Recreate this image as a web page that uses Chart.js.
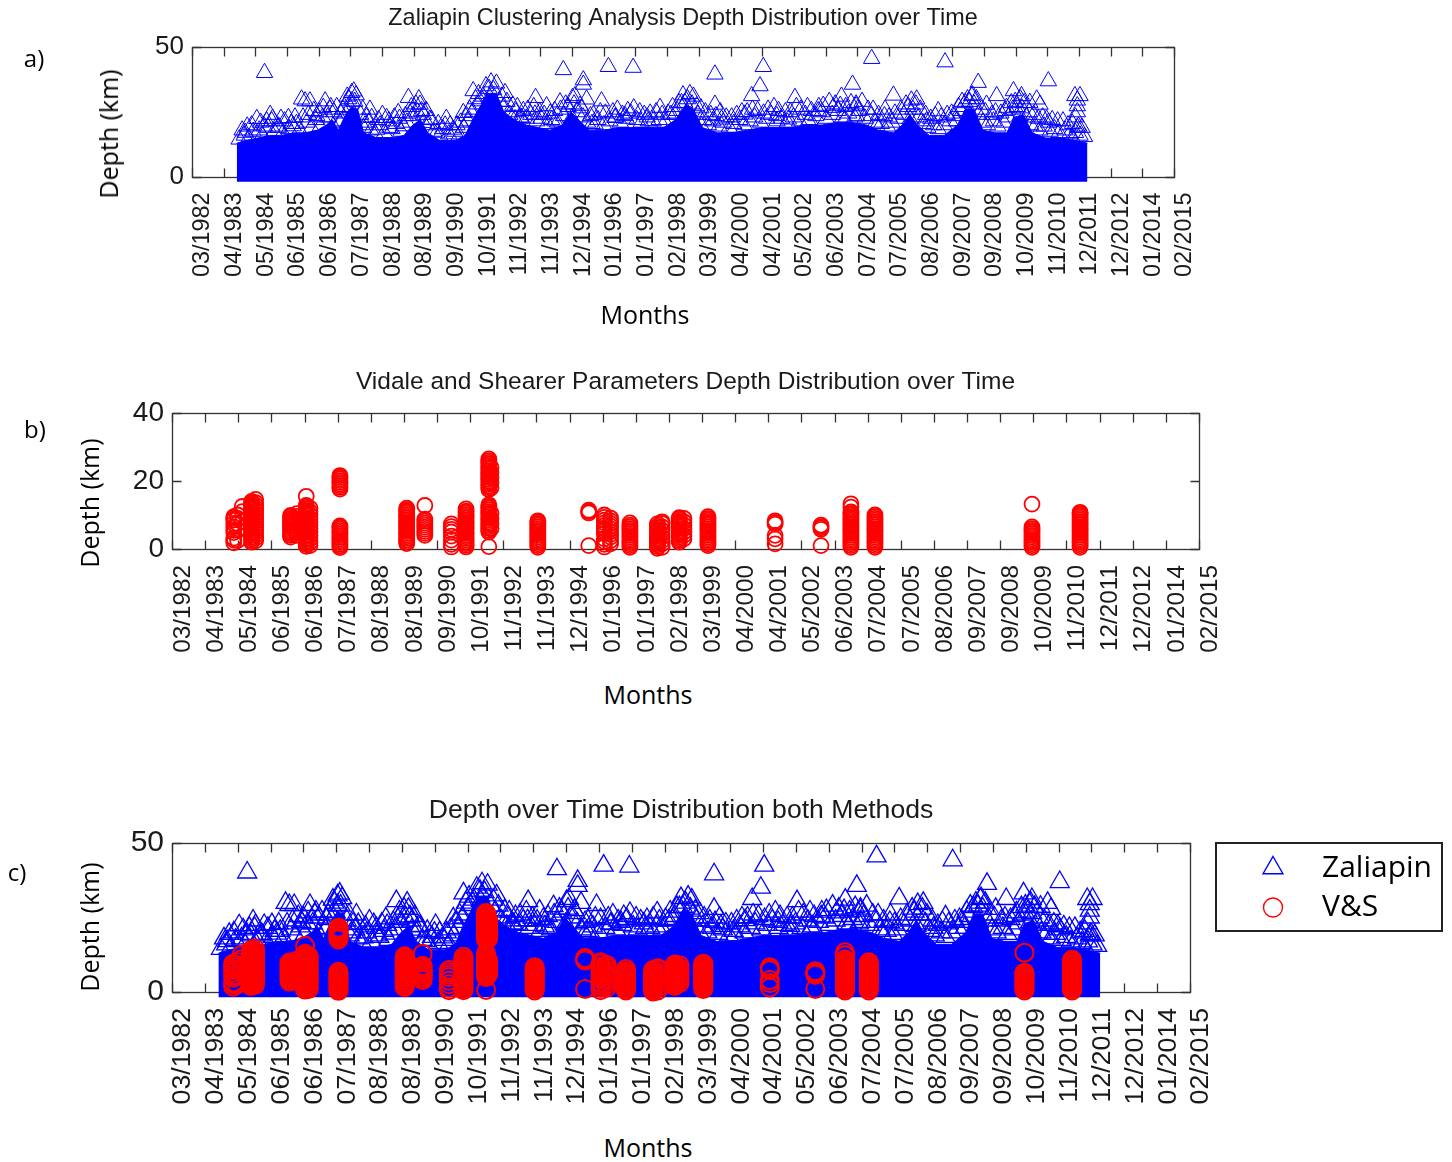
<!DOCTYPE html>
<html>
<head>
<meta charset="utf-8">
<title>Depth distribution over time</title>
<script src="https://cdn.jsdelivr.net/npm/chart.js@4.4.1/dist/chart.umd.min.js"></script>
<style>
  body { margin: 0; background: #fff; }
  #page { position: relative; width: 1452px; height: 1162px; overflow: hidden; }
  canvas { position: absolute; left: 0; }
  .lbl { position: absolute; font-family: "Open Sans", sans-serif; color: #000; white-space: nowrap;
         transform: translate(-50%, -50%); line-height: normal; }
  .rot { transform: translate(-50%, -50%) rotate(-90deg); }
</style>
</head>
<body>
<div id="page">
  <canvas id="panelA" width="1452" height="300" style="top:0px"></canvas>
  <canvas id="panelB" width="1452" height="310" style="top:360px"></canvas>
  <canvas id="panelC" width="1452" height="340" style="top:780px"></canvas>

  <div class="lbl" style="left:34px;top:57px;font-size:24px">a)</div>
  <div class="lbl" style="left:35px;top:428px;font-size:24px">b)</div>
  <div class="lbl" style="left:17px;top:871px;font-size:24px">c)</div>

  <div class="lbl rot" style="left:108px;top:134px;font-size:25px">Depth (km)</div>
  <div class="lbl rot" style="left:89px;top:503px;font-size:25px">Depth (km)</div>
  <div class="lbl rot" style="left:89px;top:927px;font-size:25px">Depth (km)</div>

  <div class="lbl" style="left:645px;top:314px;font-size:25px">Months</div>
  <div class="lbl" style="left:648px;top:694px;font-size:25px">Months</div>
  <div class="lbl" style="left:648px;top:1147px;font-size:25px">Months</div>
</div>

<script>
// time axis: evenly spaced date ticks, x values are decimal years
const tickLabels = ['03/1982', '04/1983', '05/1984', '06/1985', '06/1986', '07/1987', '08/1988', '08/1989',
    '09/1990', '10/1991', '11/1992', '11/1993', '12/1994', '01/1996', '01/1997', '02/1998', '03/1999',
    '04/2000', '04/2001', '05/2002', '06/2003', '07/2004', '07/2005', '08/2006', '09/2007', '09/2008',
    '10/2009', '11/2010', '12/2011', '12/2012', '01/2014', '02/2015']
const xMin = 1982.2
const xMax = 2015.1

// Zaliapin: upper edge of the dense band of events (km)
const zalBandYears = [1983.70, 1984.00, 1984.40, 1984.80, 1985.20, 1985.60, 1986.00, 1986.40, 1986.70, 1986.90,
    1987.10, 1987.35, 1987.55, 1987.75, 1987.95, 1988.40, 1988.90, 1989.30, 1989.60, 1989.85, 1990.10, 1990.50,
    1991.00, 1991.35, 1991.60, 1991.85, 1992.10, 1992.40, 1992.65, 1993.00, 1993.40, 1993.80, 1994.20, 1994.60,
    1994.90, 1995.15, 1995.50, 1996.00, 1996.50, 1997.00, 1997.50, 1998.00, 1998.40, 1998.75, 1999.00, 1999.30,
    1999.80, 2000.30, 2000.80, 2001.30, 2001.80, 2002.30, 2002.80, 2003.30, 2003.80, 2004.30, 2004.80, 2005.20,
    2005.70, 2006.00, 2006.25, 2006.50, 2006.90, 2007.40, 2007.85, 2008.10, 2008.40, 2008.70, 2009.10, 2009.50,
    2009.75, 2010.05, 2010.35, 2010.80, 2011.30, 2011.80, 2012.20]
const zalBandTop = [13, 14, 15, 16, 16, 17, 17, 18, 20, 22,
    18, 24, 27, 26, 17, 15, 15, 16, 20, 22, 17, 14,
    14, 16, 22, 27, 32, 32, 25, 22, 20, 19, 18, 20,
    25, 22, 18, 18, 19, 19, 19, 19, 22, 28, 26, 19,
    17, 17, 18, 19, 19, 19, 20, 20, 21, 21, 20, 18,
    17, 20, 24, 20, 16, 16, 20, 26, 26, 18, 17, 17,
    23, 24, 17, 15, 15, 14, 13]

// Zaliapin: single events standing out above the band [year, depth km]
const zalEvents = [
    [1984.63, 40.1], [1984.37, 22.4], [1984.70, 21.5], [1984.87, 21.5], [1983.98, 17.1], [1985.43, 22.8],
    [1985.87, 29.9], [1985.99, 29.2], [1986.15, 29.2], [1986.66, 29.2], [1986.60, 26.7], [1986.82, 26.0],
    [1987.55, 32.4], [1987.55, 29.2], [1987.49, 26.7], [1988.16, 26.0], [1988.22, 22.8], [1988.72, 22.8],
    [1989.11, 24.7], [1989.45, 30.5], [1989.84, 27.9], [1989.89, 25.4], [1990.17, 22.2], [1990.68, 19.9],
    [1990.95, 18.3], [1991.29, 24.7], [1991.62, 33.1], [1991.85, 29.2], [1992.18, 30.5], [1992.69, 32.4],
    [1993.02, 22.2], [1985.59, 19.6], [1985.09, 19.0], [1987.21, 21.5], [1987.94, 19.0], [1988.39, 18.3],
    [1988.83, 19.0], [1989.28, 19.6], [1990.40, 17.1], [1986.38, 23.5], [1986.93, 19.6], [1989.95, 20.9],
    [1994.64, 41.2], [1995.31, 37.3], [1995.31, 35.6], [1996.15, 42.4], [1996.98, 42.1], [1999.72, 39.5],
    [2001.34, 42.4], [2001.23, 35.0], [2000.95, 31.2], [2002.40, 30.5], [1993.71, 30.5], [1994.08, 27.3],
    [1994.53, 28.8], [1995.03, 31.2], [1995.42, 29.9], [1995.92, 29.2], [1993.24, 22.8], [1993.69, 24.1],
    [1997.88, 26.7], [1998.71, 28.6], [1999.11, 27.3], [1999.72, 27.9], [1996.37, 22.8], [1996.71, 23.5],
    [1998.38, 24.1], [1999.94, 22.2], [2000.72, 24.1], [2001.79, 23.5], [2002.18, 22.2], [2003.18, 25.4],
    [2003.68, 26.7], [1994.36, 21.5], [1995.70, 20.3], [1997.49, 21.5], [1999.27, 19.6], [2000.39, 19.0],
    [2002.85, 21.5], [1994.92, 22.8], [2003.96, 31.0],
    [2004.97, 45.5], [2007.43, 44.2], [2004.33, 35.6], [2005.70, 31.4], [2004.45, 27.3], [2008.54, 36.3],
    [2010.89, 36.9], [2009.72, 33.1], [2009.99, 31.2], [2010.50, 29.9], [2006.48, 29.9], [2005.42, 26.0],
    [2007.20, 25.4], [2011.78, 31.2], [2011.95, 31.2], [2011.86, 27.3], [2011.86, 19.0], [2010.83, 22.2],
    [2007.82, 21.5], [2006.26, 22.2], [2006.81, 21.5], [2009.49, 26.7], [2008.82, 27.9], [2009.94, 23.5],
    [2010.61, 27.9], [2004.47, 23.5], [2005.14, 19.6], [2008.27, 23.5], [2011.73, 14.5], [2004.08, 22.2],
    [2010.27, 28.6], [2008.32, 31.2], [2009.16, 31.2], [2011.86, 29.5], [2011.86, 25.0], [2011.80, 23.0],
    // events along the top of the band
    [1983.78, 14.5], [1983.95, 16.0], [1984.10, 15.0], [1984.25, 17.5], [1984.45, 18.0], [1984.55, 16.0],
    [1984.75, 19.0], [1984.95, 17.5], [1985.10, 19.5], [1985.25, 17.0], [1985.45, 18.5], [1985.70, 20.5],
    [1985.80, 18.0], [1986.05, 21.0], [1986.20, 19.0], [1986.35, 22.0], [1986.50, 19.5], [1986.75, 23.0],
    [1986.95, 25.0], [1987.15, 21.0], [1987.30, 27.0], [1987.45, 30.0], [1987.65, 29.0], [1987.85, 24.0],
    [1988.00, 20.0], [1988.20, 18.0], [1988.35, 16.5], [1988.50, 20.0], [1988.65, 17.0], [1988.90, 18.5],
    [1989.05, 20.5], [1989.20, 17.5], [1989.40, 21.0], [1989.60, 23.5], [1989.75, 25.0], [1989.95, 24.0],
    [1990.10, 20.0], [1990.30, 17.5], [1990.50, 16.0], [1990.60, 18.5], [1990.80, 16.5], [1991.00, 17.5],
    [1991.15, 16.0], [1991.30, 19.0], [1991.45, 21.5], [1991.60, 25.0], [1991.75, 28.0], [1991.95, 31.0],
    [1992.15, 34.0], [1992.30, 33.5], [1992.50, 29.0], [1992.65, 27.0], [1992.85, 24.0], [1993.05, 25.0],
    [1993.20, 23.0], [1993.40, 22.5], [1993.55, 24.0], [1993.75, 21.5], [1993.90, 22.5], [1994.10, 20.5],
    [1994.25, 22.0], [1994.45, 21.0], [1994.65, 23.5], [1994.80, 27.0], [1995.00, 28.0], [1995.10, 25.0],
    [1995.30, 23.0], [1995.45, 21.0], [1995.60, 20.5], [1995.80, 22.0], [1996.00, 20.0], [1996.20, 21.5],
    [1996.40, 23.0], [1996.55, 21.0], [1996.75, 22.5], [1996.90, 24.5], [1997.10, 22.0], [1997.25, 21.0],
    [1997.45, 23.0], [1997.65, 21.5], [1997.85, 22.0], [1998.05, 21.0], [1998.25, 24.0], [1998.45, 25.5],
    [1998.60, 28.5], [1998.80, 30.0], [1998.95, 28.0], [1999.15, 24.0], [1999.35, 22.0], [1999.50, 20.0],
    [1999.65, 21.5], [1999.85, 19.5], [2000.00, 21.0], [2000.20, 19.0], [2000.35, 20.5], [2000.55, 22.0],
    [2000.70, 20.0], [2000.90, 21.5], [2001.05, 23.0], [2001.25, 21.0], [2001.45, 22.5], [2001.60, 24.0],
    [2001.80, 21.5], [2001.95, 22.5], [2002.15, 21.0], [2002.35, 23.0], [2002.55, 21.5], [2002.75, 24.0],
    [2002.90, 22.0], [2003.10, 23.5], [2003.30, 25.0], [2003.45, 22.5], [2003.65, 24.0], [2003.85, 25.5],
    [2004.00, 23.0], [2004.20, 24.5], [2004.40, 23.0], [2004.55, 25.5], [2004.75, 22.5], [2004.95, 23.5],
    [2005.10, 21.0], [2005.30, 20.5], [2005.50, 19.5], [2005.65, 21.0], [2005.85, 22.5], [2006.05, 24.0],
    [2006.20, 27.0], [2006.35, 26.0], [2006.55, 23.0], [2006.70, 20.5], [2006.85, 19.0], [2007.05, 20.0],
    [2007.20, 18.5], [2007.40, 20.0], [2007.60, 21.5], [2007.75, 23.5], [2007.95, 25.5], [2008.10, 28.5],
    [2008.25, 29.0], [2008.40, 28.0], [2008.55, 24.0], [2008.70, 21.0], [2008.85, 20.0], [2009.05, 21.5],
    [2009.20, 19.5], [2009.40, 21.0], [2009.55, 23.0], [2009.70, 26.0], [2009.85, 27.0], [2010.00, 26.5],
    [2010.15, 23.0], [2010.30, 20.0], [2010.45, 19.5], [2010.60, 18.0], [2010.75, 19.5], [2010.95, 17.5],
    [2011.10, 18.5], [2011.25, 17.0], [2011.45, 18.0], [2011.60, 16.5], [2011.80, 17.0], [2011.95, 16.0],
    [2012.10, 15.5],
    // scattered events a little higher up
    [1984.05, 19.5], [1984.50, 21.0], [1984.90, 22.5], [1985.30, 21.5], [1985.65, 23.0], [1986.10, 24.0],
    [1986.45, 25.0], [1986.85, 27.0], [1987.20, 24.5], [1987.40, 31.0], [1987.70, 31.5], [1988.05, 23.0],
    [1988.45, 22.0], [1988.80, 21.5], [1989.15, 22.5], [1989.50, 24.5], [1989.70, 28.0], [1990.05, 25.5],
    [1990.45, 20.5], [1990.85, 20.0], [1991.20, 21.0], [1991.50, 26.0], [1991.70, 30.0], [1992.05, 35.0],
    [1992.40, 36.0], [1992.75, 29.0], [1993.10, 27.0], [1993.45, 26.0], [1993.85, 25.0], [1994.20, 24.5],
    [1994.55, 26.0], [1994.95, 30.5], [1995.25, 26.5], [1995.65, 24.0], [1996.05, 24.5], [1996.45, 26.0],
    [1996.80, 25.5], [1997.20, 25.0], [1997.55, 24.5], [1997.95, 24.0], [1998.30, 27.0], [1998.65, 31.5],
    [1999.00, 31.0], [1999.40, 25.0], [1999.75, 23.5], [2000.10, 23.0], [2000.45, 24.0], [2000.80, 25.0],
    [2001.15, 25.5], [2001.50, 26.0], [2001.85, 25.5], [2002.25, 25.0], [2002.60, 26.0], [2002.95, 25.5],
    [2003.35, 27.5], [2003.75, 28.0], [2004.10, 27.0], [2004.45, 28.0], [2004.85, 26.0], [2005.20, 24.0],
    [2005.55, 23.0], [2005.95, 26.0], [2006.30, 29.5], [2006.60, 26.0], [2006.95, 22.5], [2007.30, 23.0],
    [2007.65, 24.5], [2008.00, 29.0], [2008.35, 31.5], [2008.65, 26.0], [2009.00, 24.0], [2009.30, 24.5],
    [2009.65, 28.5], [2009.95, 30.0], [2010.25, 25.0], [2010.55, 22.5], [2010.90, 21.0], [2011.20, 21.5],
    [2011.55, 20.0], [2011.90, 19.5],
    [1983.88, 18.0], [1984.20, 20.0], [1984.62, 19.5], [1984.82, 24.0], [1985.18, 22.5], [1985.52, 20.5],
    [1985.92, 23.0], [1986.28, 25.5], [1986.58, 23.0], [1987.05, 27.0], [1987.25, 26.0], [1987.62, 33.0],
    [1987.92, 26.0], [1988.12, 21.0], [1988.58, 24.0], [1988.98, 23.0], [1989.35, 23.5], [1989.55, 27.0],
    [1989.80, 30.0], [1990.22, 22.0], [1990.72, 22.5], [1991.08, 20.0], [1991.40, 23.5], [1991.80, 32.0],
    [1992.22, 36.5], [1992.58, 31.0], [1992.95, 27.5], [1993.30, 25.5], [1993.65, 27.0], [1994.00, 24.0],
    [1994.35, 25.5], [1994.72, 28.0], [1995.20, 27.5], [1995.55, 23.5], [1995.88, 25.0], [1996.30, 25.0],
    [1996.62, 24.0], [1997.00, 26.5], [1997.35, 24.0], [1997.75, 25.0], [1998.15, 24.5], [1998.52, 28.5],
    [1998.88, 32.0], [1999.25, 26.5], [1999.58, 24.0], [1999.90, 25.0], [2000.28, 23.0], [2000.62, 25.0],
    [2000.98, 26.0], [2001.35, 24.5], [2001.70, 27.0], [2002.08, 25.0], [2002.45, 27.0], [2002.82, 27.0],
    [2003.20, 27.0], [2003.55, 29.0], [2003.92, 27.5], [2004.28, 28.5], [2004.65, 29.0], [2005.02, 26.0],
    [2005.40, 23.5], [2005.75, 24.5], [2006.12, 28.0], [2006.45, 28.0], [2006.78, 24.0], [2007.10, 23.5],
    [2007.50, 24.0], [2007.88, 27.0], [2008.18, 30.0], [2008.48, 30.0], [2008.78, 25.0], [2009.12, 25.0],
    [2009.45, 25.5], [2009.78, 29.0], [2010.08, 28.5], [2010.40, 24.0], [2010.70, 23.0], [2011.02, 22.0],
    [2011.38, 21.5], [2011.70, 20.5], [2012.02, 19.0]
]

// Vidale & Shearer: event times and the depths recorded at each (km)
const vsYears = [1984.18, 1984.30, 1984.45, 1984.75, 1984.88, 1986.00, 1986.20, 1986.50, 1986.62, 1987.58,
    1989.72, 1990.30, 1991.15, 1991.62, 1992.35, 1992.42, 1993.92, 1995.55, 1996.05, 1996.25,
    1996.87, 1997.75, 1997.90, 1998.45, 1998.60, 1999.37, 2001.52, 2002.99, 2003.95, 2004.72,
    2009.75, 2011.29]
const vsDepths = [
    [1.8, 2.6, 3.2, 4.8, 5.5, 6.5, 7.5, 8.5, 9.0, 9.5],
    [2.5, 5.5, 7.5, 9.0, 10.0],
    [8.0, 11.0, 12.5],
    [2.0, 2.5, 3.0, 3.5, 4.0, 4.5, 5.0, 5.5, 6.0, 6.5, 7.0, 7.5, 8.0, 8.5, 9.0, 9.5, 10.0, 10.5, 11.0, 11.5,
        12.0, 12.5, 13.0, 13.5, 14.0],
    [2.4, 3.2, 4.0, 4.8, 5.6, 6.4, 7.2, 8.0, 8.8, 9.6, 10.4, 11.2, 12.0, 12.8, 13.6, 14.6],
    [3.5, 4.0, 4.5, 5.0, 5.5, 6.0, 6.5, 7.0, 7.5, 8.0, 8.5, 9.0, 9.5, 9.9],
    [4.0, 4.8, 5.6, 6.4, 7.2, 8.0, 8.8, 9.6, 10.4],
    [0.8, 1.3, 1.8, 2.3, 2.8, 3.3, 3.8, 4.3, 4.8, 5.3, 5.8, 6.3, 6.8, 7.3, 7.8, 8.3, 8.8, 9.3, 9.8, 10.3,
        10.8, 11.3, 11.8, 12.3, 12.8, 15.5],
    [1.0, 2.0, 3.0, 4.0, 5.0, 6.0, 7.0, 8.0, 9.0, 10.0, 11.0, 12.0],
    [0.4, 0.9, 1.4, 1.9, 2.4, 2.9, 3.4, 3.9, 4.4, 4.9, 5.4, 5.9, 6.4, 6.8,
        17.6, 18.1, 18.6, 19.1, 19.6, 20.1, 20.6, 21.1, 21.6],
    [1.6, 2.1, 2.6, 3.1, 3.6, 4.1, 4.6, 5.1, 5.6, 6.1, 6.6, 7.1, 7.6, 8.1, 8.6, 9.1, 9.6, 10.1, 10.6, 11.1,
        11.6, 12.0],
    [4.0, 4.6, 5.2, 5.8, 6.4, 7.0, 7.6, 8.2, 8.8, 12.8],
    [0.6, 1.4, 2.6, 3.8, 5.0, 5.8, 6.6, 7.4],
    [0.6, 1.1, 1.6, 2.1, 2.6, 3.1, 3.6, 4.1, 4.6, 5.1, 5.6, 6.1, 6.6, 7.1, 7.6, 8.1, 8.6, 9.1, 9.6, 10.1,
        10.6, 11.1, 11.8],
    [0.7, 5.0, 5.5, 6.0, 6.5, 7.0, 7.5, 8.0, 8.5, 9.0, 9.5, 10.0, 10.5, 11.0, 11.5, 12.0, 12.5, 13.0,
        17.5, 18.0, 18.5, 19.0, 19.5, 20.0, 20.5, 21.0, 21.5, 22.0, 22.5, 23.0, 23.5, 24.0, 24.5, 25.0,
        25.5, 26.0, 26.5],
    [6.0, 7.5, 9.0, 10.5, 18.0, 19.5, 21.0, 22.5, 24.0],
    [0.5, 1.0, 1.5, 2.0, 2.5, 3.0, 3.5, 4.0, 4.5, 5.0, 5.5, 6.0, 6.5, 7.0, 7.5, 8.0, 8.3],
    [1.0, 10.6, 11.0, 11.4],
    [0.6, 1.4, 2.2, 3.0, 4.5, 5.3, 6.1, 6.9, 7.7, 8.5, 9.3, 10.0],
    [1.5, 2.5, 3.5, 4.3, 5.1, 5.9, 6.7, 7.5, 8.3, 9.1],
    [0.5, 1.0, 1.5, 2.0, 2.5, 3.0, 3.5, 4.0, 4.5, 5.0, 5.5, 6.0, 6.5, 7.0, 7.7],
    [0.2, 0.7, 1.2, 1.7, 2.2, 2.7, 3.2, 3.7, 4.2, 4.7, 5.2, 5.7, 6.2, 6.7, 7.4],
    [0.5, 1.5, 2.5, 3.5, 4.5, 5.5, 6.5, 7.5, 8.0],
    [2.0, 2.5, 3.0, 3.5, 4.0, 4.5, 5.0, 5.5, 6.0, 6.5, 7.0, 7.5, 8.0, 8.5, 9.0, 9.2],
    [3.0, 4.0, 5.0, 6.0, 7.0, 8.0, 9.0],
    [1.0, 1.5, 2.0, 2.5, 3.0, 3.5, 4.0, 4.5, 5.0, 5.5, 6.0, 6.5, 7.0, 7.5, 8.0, 8.5, 9.0, 9.5],
    [1.5, 3.0, 4.0, 7.3, 7.8, 8.3],
    [1.0, 5.8, 6.2, 6.6, 7.0],
    [0.5, 1.0, 1.5, 2.0, 2.5, 3.0, 3.5, 4.0, 4.5, 5.0, 5.5, 6.0, 6.5, 7.0, 7.5, 8.0, 8.5, 9.0, 9.5, 10.0,
        10.5, 10.9, 12.3, 13.3],
    [0.5, 1.0, 1.5, 2.0, 2.5, 3.0, 3.5, 4.0, 4.5, 5.0, 5.5, 6.0, 6.5, 7.0, 7.5, 8.0, 8.5, 9.0, 9.5, 10.0],
    [0.5, 1.0, 1.5, 2.0, 2.5, 3.0, 3.5, 4.0, 4.5, 5.0, 5.5, 6.0, 6.5, 13.2],
    [0.5, 1.0, 1.5, 2.0, 2.5, 3.0, 3.5, 4.0, 4.5, 5.0, 5.5, 6.0, 6.5, 7.0, 7.5, 8.0, 8.5, 9.0, 9.5, 10.0,
        10.5, 10.8]
]

const BLUE = '#0000ff'
const RED = '#ff0000'
const TEXT = '#1a1a1a'
const AXIS_FONT = '"Liberation Sans", Arial, sans-serif'

const bandPoints = zalBandYears.map((x, i) => ({ x, y: zalBandTop[i] }))
const zalPoints = zalEvents.map(([x, y]) => ({ x, y }))
const vsPoints = vsYears.flatMap((x, i) => vsDepths[i].map(y => ({ x, y })))

/**
 * MATLAB style box round the plot, with the ticks pointing inwards
 */
const framePlugin = {
    id: 'frame',
    beforeDatasetsDraw(chart, args, opts) {
        const { ctx } = chart
        const xs = chart.scales.x
        const ys = chart.scales.y
        const l = Math.round(xs.getPixelForValue(xMin)) + 0.5
        const r = Math.round(xs.getPixelForValue(xMax)) + 0.5
        const t = Math.round(ys.getPixelForValue(opts.yTop)) + 0.5
        const b = Math.round(ys.getPixelForValue(0)) + 0.5
        ctx.save()
        ctx.strokeStyle = '#333'
        ctx.lineWidth = 1.3
        ctx.strokeRect(l, t, r - l, b - t)
        ctx.beginPath()
        xs.ticks.forEach(tick => {
            const px = Math.round(xs.getPixelForValue(tick.value)) + 0.5
            ctx.moveTo(px, t)
            ctx.lineTo(px, t + 9)
            ctx.moveTo(px, b)
            ctx.lineTo(px, b - 9)
        })
        ys.ticks.forEach(tick => {
            const py = Math.round(ys.getPixelForValue(tick.value)) + 0.5
            ctx.moveTo(l, py)
            ctx.lineTo(l + 9, py)
            ctx.moveTo(r, py)
            ctx.lineTo(r - 9, py)
        })
        ctx.stroke()
        ctx.restore()
    }
}

/**
 * Boxed legend to the right of the plot, built from the labelled datasets
 */
const boxLegend = {
    id: 'boxLegend',
    afterDraw(chart, args, opts) {
        const { ctx, chartArea } = chart
        const left = chartArea.right + opts.gap
        const top = chartArea.top
        ctx.save()
        ctx.strokeStyle = '#222'
        ctx.lineWidth = 2
        ctx.strokeRect(left, top, opts.width, opts.height)
        ctx.font = opts.font
        ctx.textBaseline = 'middle'
        chart.data.datasets.filter(ds => ds.label).forEach((ds, i) => {
            const y = top + opts.rows[i]
            ctx.fillStyle = 'rgba(0,0,0,0)'
            ctx.strokeStyle = ds.borderColor
            ctx.lineWidth = 1.4
            Chart.helpers.drawPoint(ctx, {
                pointStyle: ds.pointStyle, radius: opts.radii[i], borderWidth: 1.4, rotation: 0
            }, left + opts.symbolX, y)
            ctx.fillStyle = '#000'
            ctx.fillText(ds.label, left + opts.textX, y)
        })
        ctx.restore()
    }
}

/**
 * One depth-vs-time panel
 * @param {string} id canvas id
 * @param {Object} cfg panel settings
 */
function makePanel(id, cfg) {
    const canvas = document.getElementById(id)
    const step = (xMax - xMin) / (tickLabels.length - 1)
    return new Chart(canvas, {
        type: 'scatter',
        data: { datasets: cfg.datasets },
        options: {
            responsive: false,
            animation: false,
            events: [],
            layout: { padding: { left: 0, top: 0, bottom: 0, right: canvas.width - cfg.right } },
            plugins: {
                legend: { display: false },
                tooltip: { enabled: false },
                title: {
                    display: true,
                    text: cfg.title,
                    fullSize: false,
                    color: TEXT,
                    font: { family: AXIS_FONT, size: cfg.titleSize, weight: 'normal' },
                    padding: cfg.titlePad
                },
                frame: { yTop: cfg.yTicks[cfg.yTicks.length - 1] },
                boxLegend: cfg.legend || {}
            },
            scales: {
                x: {
                    type: 'linear',
                    min: xMin,
                    max: xMax,
                    grid: { display: false, drawTicks: false },
                    border: { display: false },
                    afterBuildTicks: scale => {
                        scale.ticks = tickLabels.map((_, i) => ({ value: xMin + i * step }))
                    },
                    afterFit: scale => { scale.height = canvas.height - cfg.bottom },
                    ticks: {
                        autoSkip: false,
                        minRotation: 90,
                        maxRotation: 90,
                        labelOffset: 11,
                        padding: cfg.xPad,
                        color: TEXT,
                        font: { family: AXIS_FONT, size: cfg.xFont },
                        callback: (value, index) => tickLabels[index]
                    }
                },
                y: {
                    min: cfg.yMin,
                    max: cfg.yTicks[cfg.yTicks.length - 1],
                    grid: { display: false, drawTicks: false },
                    border: { display: false },
                    afterBuildTicks: scale => {
                        scale.ticks = cfg.yTicks.map(value => ({ value }))
                    },
                    afterFit: scale => { scale.width = cfg.left },
                    ticks: {
                        padding: 8,
                        color: TEXT,
                        font: { family: AXIS_FONT, size: cfg.yFont }
                    }
                }
            }
        },
        plugins: cfg.legend ? [framePlugin, boxLegend] : [framePlugin]
    })
}

// higher order is drawn first, so the band sits under the markers
function bandSet() {
    return {
        type: 'line',
        order: 3,
        data: bandPoints,
        fill: { value: -1.8 },
        backgroundColor: BLUE,
        borderColor: BLUE,
        borderWidth: 1,
        pointRadius: 0,
        tension: 0
    }
}

function zalSet(radius, width) {
    return {
        label: 'Zaliapin',
        order: 2,
        data: zalPoints,
        pointStyle: 'triangle',
        pointRadius: radius,
        pointBorderWidth: width,
        borderColor: BLUE,
        backgroundColor: 'rgba(0,0,0,0)',
        clip: false
    }
}

function vsSet(radius, width) {
    return {
        label: 'V&S',
        order: 1,
        data: vsPoints,
        pointStyle: 'circle',
        pointRadius: radius,
        pointBorderWidth: width,
        borderColor: RED,
        backgroundColor: 'rgba(0,0,0,0)',
        clip: false
    }
}

function main() {
    makePanel('panelA', {
        title: 'Zaliapin Clustering Analysis Depth Distribution over Time',
        titleSize: 23.4, titlePad: { top: 4.66, bottom: 14.26 },
        left: 192, right: 1174, bottom: 183.5,
        yMin: -2.5, yTicks: [0, 50], yFont: 26,
        xFont: 23.4, xPad: 9,
        datasets: [bandSet(), zalSet(9.5, 1)]
    })
    makePanel('panelB', {
        title: 'Vidale and Shearer Parameters Depth Distribution over Time',
        titleSize: 24.5, titlePad: { top: 7.8, bottom: 15.8 },
        left: 172, right: 1199, bottom: 189,
        yMin: 0, yTicks: [0, 20, 40], yFont: 28,
        xFont: 24.3, xPad: 16,
        datasets: [vsSet(7.5, 1.8)]
    })
    makePanel('panelC', {
        title: 'Depth over Time Distribution both Methods',
        titleSize: 26.6, titlePad: { top: 14.54, bottom: 16.54 },
        left: 172, right: 1190, bottom: 219.45,
        yMin: -2.5, yTicks: [0, 50], yFont: 30,
        xFont: 26.7, xPad: 8.5,
        datasets: [bandSet(), zalSet(11, 1.3), vsSet(9, 2)],
        legend: {
            gap: 26, width: 226, height: 88, rows: [25, 64.5], radii: [11.5, 9.5],
            symbolX: 57, textX: 106, font: '30px "Open Sans", sans-serif'
        }
    })
}

window.onload = main
</script>
</body>
</html>
